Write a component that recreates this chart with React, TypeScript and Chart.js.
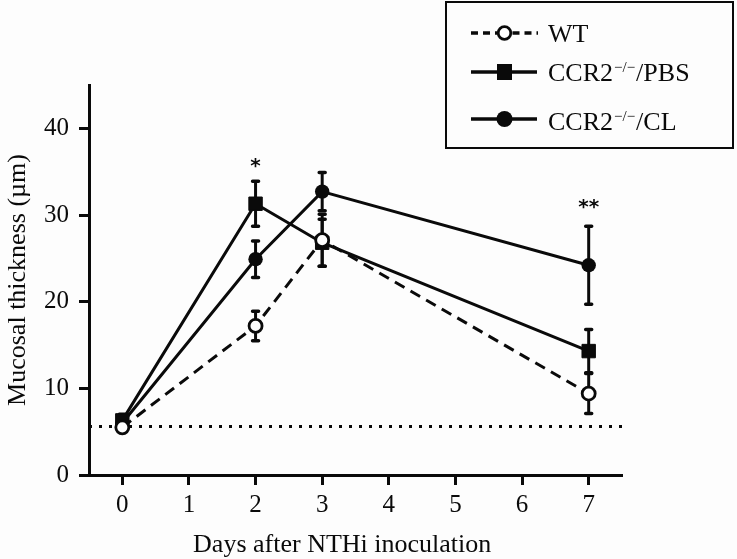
import React, { useEffect, useRef } from 'react';
import { Chart, registerables } from 'chart.js';

Chart.register(...registerables);

// ---- data ----
const days = [0, 2, 3, 7];
const wtMean = [5.5, 17.2, 27.1, 9.4];
const wtErr = [0.5, 1.7, 3.0, 2.3];
const pbsMean = [6.3, 31.3, 26.8, 14.3];
const pbsErr = [0.7, 2.6, 2.7, 2.5];
const clMean = [6.0, 24.9, 32.7, 24.2];
const clErr = [0.6, 2.1, 2.2, 4.5];
const baselineValue = 5.6;
const xTickValues = [0, 1, 2, 3, 4, 5, 6, 7];
const yTickValues = [0, 10, 20, 30, 40];
const significanceDays = [2, 7];
const significanceLevels = [36.2, 31.5];
const significanceMarks = ['*', '**'];
const xTitle = 'Days after NTHi inoculation';
const yTitle = 'Mucosal thickness (µm)';
const legendMain = ['WT', 'CCR2', 'CCR2'];
const legendSup = ['', '−/−', '−/−'];
const legendTail = ['', '/PBS', '/CL'];

const SERIF = '"Liberation Serif", "DejaVu Serif", serif';
const INK = '#0a0a0a';

function pts(means: number[]) {
  return days.map((d, i) => ({ x: d, y: means[i] }));
}

const errorSets = [
  { mean: wtMean, err: wtErr },
  { mean: pbsMean, err: pbsErr },
  { mean: clMean, err: clErr },
];

const bgPlugin = {
  id: 'bg',
  beforeDraw(chart: any) {
    const { ctx, width, height } = chart;
    ctx.save();
    ctx.fillStyle = '#fdfdfd';
    ctx.fillRect(0, 0, width, height);
    ctx.restore();
  },
};

const errorBarPlugin = {
  id: 'errorBars',
  beforeDatasetsDraw(chart: any) {
    const { ctx } = chart;
    const xs = chart.scales.x;
    const ys = chart.scales.y;
    ctx.save();
    ctx.strokeStyle = INK;
    errorSets.forEach((s) => {
      days.forEach((d, i) => {
        const x = xs.getPixelForValue(d);
        const yT = ys.getPixelForValue(s.mean[i] + s.err[i]);
        const yB = ys.getPixelForValue(s.mean[i] - s.err[i]);
        ctx.lineWidth = 3;
        ctx.lineCap = 'butt';
        ctx.beginPath();
        ctx.moveTo(x, yT);
        ctx.lineTo(x, yB);
        ctx.stroke();
        ctx.lineWidth = 3.5;
        ctx.lineCap = 'round';
        ctx.beginPath();
        ctx.moveTo(x - 3, yT);
        ctx.lineTo(x + 3, yT);
        ctx.moveTo(x - 3, yB);
        ctx.lineTo(x + 3, yB);
        ctx.stroke();
      });
    });
    ctx.restore();
  },
};

const annotPlugin = {
  id: 'annot',
  afterDraw(chart: any) {
    const { ctx, chartArea } = chart;
    const xs = chart.scales.x;
    const ys = chart.scales.y;
    ctx.save();
    ctx.fillStyle = INK;
    // significance marks
    ctx.font = 'bold 20px "DejaVu Sans", sans-serif';
    ctx.textAlign = 'center';
    ctx.textBaseline = 'alphabetic';
    significanceDays.forEach((d, i) => {
      ctx.fillText(significanceMarks[i], xs.getPixelForValue(d), ys.getPixelForValue(significanceLevels[i]) + 11);
    });
    // axis titles
    ctx.font = `26px ${SERIF}`;
    ctx.textAlign = 'center';
    ctx.textBaseline = 'alphabetic';
    ctx.fillText(xTitle, xs.getPixelForValue(3.3), 552);
    ctx.save();
    ctx.translate(24.5, (chartArea.top + chartArea.bottom) / 2);
    ctx.rotate(-Math.PI / 2);
    ctx.fillText(yTitle, 0, 0);
    ctx.restore();

    // legend
    ctx.strokeStyle = INK;
    ctx.lineWidth = 2;
    ctx.strokeRect(446, 2, 287, 146);
    const rowsY = [33, 72, 119];
    const baseY = [42, 81, 130];
    const x0 = 471;
    const x1 = 537;
    const xm = 504.5;
    rowsY.forEach((y, i) => {
      ctx.strokeStyle = INK;
      ctx.fillStyle = INK;
      ctx.lineWidth = 3.5;
      if (i === 0) {
        ctx.setLineDash([7, 5]);
        ctx.beginPath();
        ctx.moveTo(x0, y);
        ctx.lineTo(xm - 7, y);
        ctx.moveTo(xm + 8, y);
        ctx.lineTo(x1 + 1, y);
        ctx.stroke();
        ctx.setLineDash([]);
        ctx.lineWidth = 2.8;
        ctx.fillStyle = '#fff';
        ctx.beginPath();
        ctx.arc(xm, y, 6.3, 0, Math.PI * 2);
        ctx.fill();
        ctx.stroke();
      } else {
        ctx.setLineDash([]);
        ctx.beginPath();
        ctx.moveTo(x0, y);
        ctx.lineTo(x1, y);
        ctx.stroke();
        if (i === 1) {
          ctx.fillRect(xm - 7.5, y - 8, 15, 16);
        } else {
          ctx.beginPath();
          ctx.arc(xm, y, 8, 0, Math.PI * 2);
          ctx.fill();
        }
      }
      // text
      ctx.fillStyle = INK;
      ctx.textAlign = 'left';
      ctx.textBaseline = 'alphabetic';
      let tx = 548;
      ctx.font = `26px ${SERIF}`;
      ctx.fillText(legendMain[i], tx, baseY[i]);
      tx += ctx.measureText(legendMain[i]).width;
      if (legendSup[i]) {
        ctx.font = `15px ${SERIF}`;
        ctx.fillText(legendSup[i], tx + 1, baseY[i] - 9);
        tx += ctx.measureText(legendSup[i]).width + 2;
        ctx.font = `26px ${SERIF}`;
        ctx.fillText(legendTail[i], tx, baseY[i]);
      }
    });
    ctx.restore();
  },
};

export default function App() {
  const ref = useRef<HTMLCanvasElement | null>(null);
  useEffect(() => {
    if (!ref.current) return;
    const tickFont = { family: SERIF, size: 25 };
    const chart = new Chart(ref.current, {
      type: 'line',
      data: {
        datasets: [
          {
            label: 'WT',
            data: pts(wtMean),
            borderColor: INK,
            borderWidth: 3,
            borderDash: [11, 7],
            pointStyle: 'circle',
            pointRadius: 6.5,
            pointBorderWidth: 2.8,
            pointBackgroundColor: '#fff',
            pointBorderColor: INK,
            fill: false,
          },
          {
            label: 'CCR2−/−/PBS',
            data: pts(pbsMean),
            borderColor: INK,
            borderWidth: 3,
            pointStyle: 'rect',
            pointRadius: 9.5,
            pointBorderWidth: 1,
            pointBackgroundColor: INK,
            pointBorderColor: INK,
            fill: false,
          },
          {
            label: 'CCR2−/−/CL',
            data: pts(clMean),
            borderColor: INK,
            borderWidth: 3,
            pointStyle: 'circle',
            pointRadius: 7.2,
            pointBorderWidth: 0,
            pointBackgroundColor: INK,
            pointBorderColor: INK,
            fill: false,
          },
          {
            label: 'baseline',
            data: [
              { x: -0.5, y: baselineValue },
              { x: 7.5, y: baselineValue },
            ],
            borderColor: INK,
            borderWidth: 3,
            borderDash: [3, 7],
            pointRadius: 0,
            fill: false,
          },
        ],
      },
      options: {
        animation: false,
        responsive: false,
        layout: { padding: { top: 85, right: 115, left: 0, bottom: 0 } },
        plugins: { legend: { display: false }, tooltip: { enabled: false } },
        scales: {
          x: {
            type: 'linear',
            min: -0.5,
            max: 7.5,
            afterBuildTicks: (s: any) => {
              s.ticks = xTickValues.map((v) => ({ value: v }));
            },
            afterFit: (s: any) => {
              s.height = 84;
            },
            grid: { drawOnChartArea: false, drawTicks: true, tickLength: 10, tickWidth: 3, color: INK },
            border: { display: true, width: 3, color: INK },
            ticks: { font: tickFont, color: INK, padding: 5, maxRotation: 0, autoSkip: false },
          },
          y: {
            type: 'linear',
            min: 0,
            max: 45,
            afterBuildTicks: (s: any) => {
              s.ticks = yTickValues.map((v) => ({ value: v }));
            },
            afterFit: (s: any) => {
              s.width = 89;
            },
            grid: { drawOnChartArea: false, drawTicks: true, tickLength: 10, tickWidth: 3, color: INK },
            border: { display: true, width: 3, color: INK },
            ticks: { font: tickFont, color: INK, padding: 10 },
          },
        },
      },
      plugins: [bgPlugin, errorBarPlugin, annotPlugin],
    } as any);
    return () => chart.destroy();
  }, []);
  return (
    <div style={{ position: 'fixed', left: 0, top: 0, width: 737, height: 559 }}>
      <canvas ref={ref} width={737} height={559} style={{ display: 'block' }} />
    </div>
  );
}
